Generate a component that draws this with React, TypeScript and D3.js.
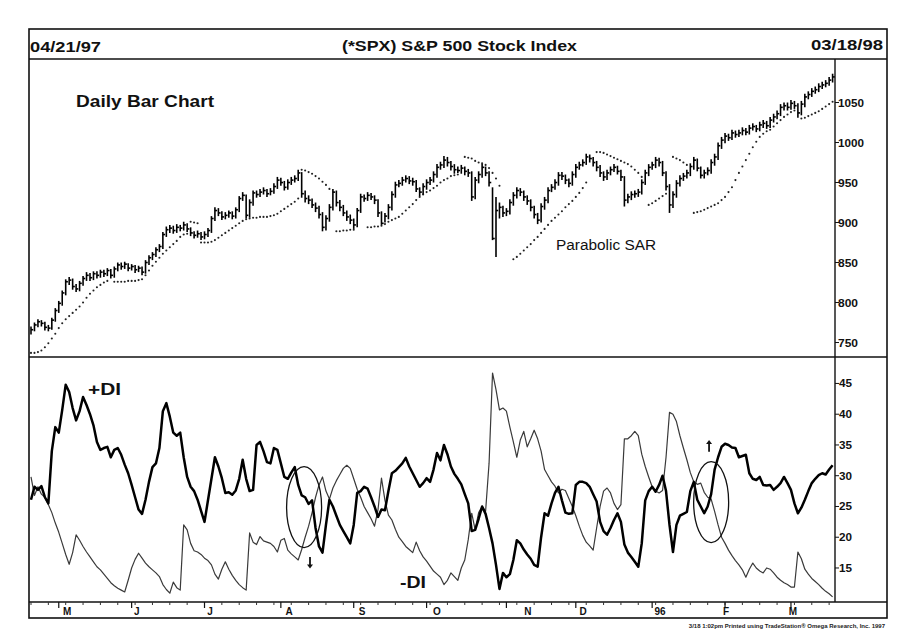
import React from "react";
import * as d3 from "d3";

// ---- Daily S&P 500 bars, 04/21/97 .. 03/18/98 (trading-day index 0..231) ----
const closes = [
766,772,776,774,769,768,778,790,799,812,
826,828,820,817,824,830,834,831,836,834,
838,836,840,834,842,847,845,848,843,845,
841,843,838,850,856,860,866,870,885,891,
893,890,894,893,897,892,887,884,886,882,
885,890,905,915,912,907,909,912,908,916,
930,934,909,925,937,935,938,940,936,939,
945,953,950,944,950,953,955,962,936,930,
928,922,918,910,894,905,919,938,925,919,
912,907,903,897,915,932,930,934,932,928,
912,899,908,919,935,947,949,953,955,952,
951,942,938,945,950,953,960,969,972,978,
975,970,966,965,968,964,962,932,953,960,
969,962,950,880,915,919,912,914,925,934,
940,938,932,927,919,910,903,920,928,940,
944,950,959,958,953,949,960,969,972,975,
982,980,975,969,962,957,962,966,969,964,
957,928,932,935,936,938,950,962,969,972,
978,975,962,945,922,935,949,955,958,962,
970,978,968,959,962,965,975,982,996,1003,
1008,1006,1012,1010,1012,1015,1013,1018,1020,1017,
1022,1024,1021,1028,1032,1036,1044,1046,1044,1049,
1046,1037,1048,1057,1060,1064,1066,1070,1072,1074,
1078,1082];

const highs = [
770,775,779,778,776,772,781,793,802,815,
829,832,830,823,827,833,838,837,839,839,
841,841,843,842,845,850,850,851,849,848,
847,846,845,853,859,863,869,873,888,895,
897,896,898,897,901,899,894,889,890,888,
889,893,908,919,918,914,913,915,914,919,
933,938,935,929,940,940,942,944,942,943,
949,957,956,952,954,957,959,966,963,940,
934,930,925,921,913,909,923,942,940,928,
922,915,910,905,918,936,935,938,937,934,
929,914,912,923,939,951,953,957,959,958,
956,953,944,949,954,957,964,973,976,983,
982,977,973,970,972,970,967,964,957,964,
973,970,964,944,932,925,921,918,929,938,
944,943,940,934,929,921,912,924,932,944,
948,954,963,963,960,955,964,973,976,979,
986,985,982,977,972,964,966,970,973,971,
966,958,936,939,940,942,954,966,973,976,
982,981,977,964,948,939,953,959,962,966,
974,982,980,970,966,969,979,986,1000,1007,
1012,1011,1016,1015,1016,1019,1018,1022,1024,1022,
1026,1028,1027,1032,1036,1040,1048,1050,1050,1053,
1052,1049,1052,1061,1064,1068,1070,1074,1076,1078,
1082,1086];

const lows = [
760,764,769,770,765,764,766,776,787,796,
809,822,816,813,814,821,827,827,828,830,
831,832,833,830,831,839,841,842,839,840,
837,838,834,836,847,853,857,863,867,882,
887,886,887,889,890,888,883,880,881,878,
879,882,887,902,908,903,904,906,904,905,
913,927,905,906,921,931,932,935,932,934,
936,942,946,940,941,947,950,952,931,925,
923,918,913,905,889,890,901,915,920,914,
908,902,898,892,894,912,926,927,928,923,
907,897,900,904,915,931,944,946,950,948,
946,938,933,935,941,947,950,956,966,968,
970,965,961,962,961,959,957,927,929,949,
956,958,945,878,857,905,907,908,910,921,
930,933,927,922,914,905,898,900,916,924,
938,941,946,953,948,944,946,956,966,970,
972,975,970,964,957,952,953,959,963,960,
952,920,924,928,931,932,935,947,958,966,
968,970,958,940,912,918,931,945,952,955,
958,966,964,955,955,959,961,971,978,992,
999,1002,1003,1006,1007,1009,1009,1010,1015,1013,
1014,1018,1017,1018,1025,1029,1033,1040,1040,1041,
1042,1031,1034,1044,1054,1057,1061,1063,1067,1069,
1071,1075];

// Parabolic SAR (null = no dot)
const sar: (number | null)[] = [
737,737,738,740,744,749,755,761,768,774,
779,783,787,791,795,800,806,811,815,819,
822,825,827,null,826,826,826,826,827,827,
827,828,829,834,840,846,851,856,861,865,
869,873,877,882,885,886,901,900,899,875,
875,875,876,878,881,884,887,890,893,896,
899,902,904,905,906,906,907,907,907,908,
909,911,914,917,920,923,926,930,966,965,
963,961,958,955,951,947,942,null,889,889,
890,890,891,891,null,null,null,894,894,895,
895,896,898,901,903,905,907,911,915,919,
923,928,932,935,938,940,943,946,950,953,
955,958,959,960,null,982,981,980,977,975,
974,972,968,962,955,946,null,null,null,854,
857,861,865,869,873,878,882,887,892,897,
902,906,910,914,919,923,927,932,937,943,
950,null,null,988,988,987,985,983,981,979,
977,975,973,970,966,962,957,null,922,924,
927,930,933,936,null,982,980,978,975,972,
null,912,913,914,916,918,920,922,924,928,
932,938,944,953,962,970,978,986,994,1001,
1007,1011,1014,1016,1020,1024,1028,1032,1035,1038,
1040,null,1030,1031,1033,1035,1037,1039,1042,1045,
1048,1051];

const plusDI = [
26.1,28.2,27.7,28.3,26.5,25.5,34,37.9,37,40.7,
44.8,43.6,41,39,40.5,42.8,41.5,40,38.2,35.5,
34.2,34.5,34.7,33,34.2,34.5,33.4,31.8,30.4,28.5,
26.5,24.5,23.8,26.1,29,31.4,32,34.5,40.5,41.8,
39.6,37,36.5,37,33,29.8,28.2,27.5,26.1,24.3,
22.5,26,29.5,33,31.5,29.6,27.2,27.3,26.9,27.6,
29.5,32.6,29.5,27.5,27.7,35,35.5,34,32.2,32,
34.5,34.2,32,29.8,29.5,30.5,31.4,28.5,26.8,26.5,
25.4,26,21.5,18.5,17.5,22,26.1,25,23.5,22,
21,20,19,22,27.2,27.5,28.2,27.9,26.5,25,
23.3,24.5,24.4,27.5,30.4,30.8,31.4,32,32.9,31.5,
30.4,29.3,28.2,28.8,29.6,29,31,33.7,32.5,35,
33.5,31.5,30.3,29.5,28.6,27,25.5,21,21.2,23,
25,23.8,21.5,19,15.5,11.6,14.2,13.5,14,16.3,
19.5,19,18,17.2,16.5,15.5,15.2,20,23.9,23.5,
25.5,27.2,28.2,26,24,23.8,23.9,28.5,29,29,
28.8,28.2,27,25.8,22.5,21,20.4,21.5,22.8,23.9,
22.5,18.8,17.5,16.8,16,15.2,19,26,27.5,28.2,
27.4,28.5,30,27.5,22,17.6,22,23.5,23.8,24.1,
27.5,29,26.1,25,23.9,25,27,31,33,34.7,
35.2,35,34.6,34.5,33,33.2,33.4,30.4,29.5,29.3,
29.8,28.5,28.4,28.5,27.7,28.2,28.8,29.8,28.8,27.7,
25.5,23.9,24.8,26.1,27.5,28.8,29.5,30.1,30.4,30.2,
31,31.7];

const minusDI = [
29.8,26.8,28.2,27,26.5,25.3,24,22.3,20.8,19,
17.2,15.6,17.5,20.4,19.5,18.5,17.6,16.8,16,15.2,
14.7,14,13.3,12.6,12.1,11.7,11.4,11.1,13,15,
16.4,17.4,16.6,15.8,15.2,14.7,14.2,13.6,12.3,11.5,
10.9,12.7,11.8,11.4,22,21.2,19,17.8,17.6,17.2,
16.6,16.2,15.5,14,13.2,14.8,16,14.8,13.8,13,
12.3,11.8,11.4,20.7,19.2,18.8,20.1,19.4,19.2,19,
18.5,17.6,19.5,19.8,17.9,17.3,16.8,16.3,18,20,
21.8,24,26.5,28.5,29.8,27.5,26.2,28,29.2,30.2,
31.2,31.7,31.2,29.5,27.8,26.5,25,24,23,21.8,
24.5,29.6,26,23.6,22.8,21.3,20,19.3,18.5,18,
17.5,19.2,17.8,16.8,16.1,15.3,14.5,14,13.5,12.3,
13,14.2,13.6,13,15,16.3,19.6,23.9,21.2,24,
25,24.2,32,46.7,44,40.7,41,40.5,37.9,35.5,
33,35.8,37.2,34.7,36,37.4,36,34,31,30,
29,28.3,27.2,27.8,27.6,26.3,25,23.5,21.8,20.3,
19.2,18.6,17.9,21.5,25,27.5,28,27.2,25.5,24.5,
25.3,36,36,36.5,37.2,36.5,33.5,31.5,29.8,28.2,
27.5,27.2,27.6,33,40.3,40,38.8,36.5,34.5,32.6,
30.5,29,28.6,28.8,27.3,26.5,26.2,24.2,22,20,
19,17.9,17,16.2,15.5,14.7,13.5,14.8,15.8,15,
14.5,14.2,15,14.8,14.2,13.5,13,12.6,12.3,11.9,
11.9,17.6,16.5,14.8,14,13.3,12.8,12.3,11.7,11.2,
10.8,10.3];

const priceTicks = [750, 800, 850, 900, 950, 1000, 1050];
const diTicks = [15, 20, 25, 30, 35, 40, 45];
const monthLabels = ["M", "J", "J", "A", "S", "O", "N", "D", "96", "F", "M"];
const monthLabelDays = [10.4, 30.5, 51.6, 74.4, 95.4, 117, 143.2, 159.1, 181.3, 200.3, 219.6];
const monthStartDays = [8, 29, 50, 72, 93, 114, 137, 157, 179, 200, 219];
// annotations: ellipses [day, DI value], arrows [day, fromDI, toDI]
const ellipses = [[78.7, 24.9], [196, 25.7]];
const arrows = [[80.4, 16.8, 14.9], [195.4, 33.9, 35.8]];

const FONT = "'Liberation Sans', Arial, Helvetica, sans-serif";

export default function App() {
  const L = 29, R = 887, T = 29, TB = 59, MID = 357, AX = 602, B = 618, YA = 835;
  const x = d3.scaleLinear().domain([0, closes.length - 1]).range([31, 832.6]);
  const yP = d3.scaleLinear().domain([731.9, 1104.4]).range([MID, TB]);
  const yD = d3.scaleLinear().domain([9.47, 49.3]).range([AX, MID]);
  const diLine = d3.line<number>().x((_, i) => x(i)).y((d) => yD(d));
  const weekTicks = d3.range(0, closes.length, 5);

  return (
    <svg width={898} height={641} style={{ position: "absolute", left: 0, top: 0, background: "#fff" }}
      fontFamily={FONT}>
      <rect x={0} y={0} width={898} height={641} fill="#fff" />
      {/* frame */}
      <rect x={L} y={T} width={R - L} height={B - T} fill="none" stroke="#111" strokeWidth={1.6} />
      <line x1={L} x2={R} y1={TB} y2={TB} stroke="#111" strokeWidth={1.6} />
      <line x1={L} x2={R} y1={MID} y2={MID} stroke="#111" strokeWidth={1.6} />
      <line x1={L} x2={R} y1={AX} y2={AX} stroke="#111" strokeWidth={1.6} />
      <line x1={YA} x2={YA} y1={TB} y2={AX} stroke="#111" strokeWidth={1.4} />

      {/* title band */}
      <text x={30} y={52} fontSize={14} fontWeight="bold" textLength={71} lengthAdjust="spacingAndGlyphs" fill="#111">04/21/97</text>
      <text x={342} y={51} fontSize={14} fontWeight="bold" textLength={235} lengthAdjust="spacingAndGlyphs" fill="#111">(*SPX) S&amp;P 500 Stock Index</text>
      <text x={811} y={50} fontSize={14} fontWeight="bold" textLength={72} lengthAdjust="spacingAndGlyphs" fill="#111">03/18/98</text>

      {/* price axis */}
      {priceTicks.map((t) => (
        <g key={"p" + t}>
          <line x1={YA} x2={YA + 4} y1={yP(t)} y2={yP(t)} stroke="#111" strokeWidth={1} />
          <text x={YA + 3} y={yP(t) + 4} fontSize={11} fontWeight="bold" fill="#111"
            textLength={t >= 1000 ? 26 : 20} lengthAdjust="spacingAndGlyphs">{t}</text>
        </g>
      ))}
      {diTicks.map((t) => (
        <g key={"d" + t}>
          <line x1={YA} x2={YA + 4} y1={yD(t)} y2={yD(t)} stroke="#111" strokeWidth={1} />
          <text x={YA + 4} y={yD(t) + 4} fontSize={11} fontWeight="bold" fill="#111"
            textLength={13} lengthAdjust="spacingAndGlyphs">{t}</text>
        </g>
      ))}

      {/* SAR dots */}
      {sar.map((v, i) => v == null ? null : (
        <circle key={"s" + i} cx={x(i)} cy={yP(v)} r={1.05} fill="#222" />
      ))}

      {/* price bars */}
      {closes.map((c, i) => (
        <g key={"b" + i} stroke="#000" strokeWidth={1.6}>
          <line x1={x(i)} x2={x(i)} y1={yP(highs[i])} y2={yP(lows[i])} />
          <line x1={x(i)} x2={x(i) + 2.2} y1={yP(c)} y2={yP(c)} />
        </g>
      ))}

      <text x={76} y={107} fontSize={17} fontWeight="bold" textLength={138} lengthAdjust="spacingAndGlyphs" fill="#111">Daily Bar Chart</text>
      <text x={556} y={250} fontSize={14} textLength={100} lengthAdjust="spacingAndGlyphs" fill="#111">Parabolic SAR</text>

      {/* DI lines */}
      <path d={diLine(minusDI) || ""} fill="none" stroke="#3a3a3a" strokeWidth={1.2} strokeLinejoin="round" />
      <path d={diLine(plusDI) || ""} fill="none" stroke="#000" strokeWidth={2.5} strokeLinejoin="round" />

      <text x={88} y={395} fontSize={17} fontWeight="bold" textLength={33} lengthAdjust="spacingAndGlyphs" fill="#111">+DI</text>
      <text x={400} y={588} fontSize={17} fontWeight="bold" textLength={26} lengthAdjust="spacingAndGlyphs" fill="#111">-DI</text>

      {/* annotations */}
      {ellipses.map(([d, v], k) => (
        <ellipse key={"e" + k} cx={x(d)} cy={yD(v)} rx={17.5} ry={40.5} fill="none" stroke="#111" strokeWidth={1.3} />
      ))}
      {arrows.map(([d, a, b], k) => {
        const x0 = x(d), y0 = yD(a), y1 = yD(b);
        const dir = y1 > y0 ? 1 : -1;
        return (
          <g key={"a" + k}>
            <line x1={x0} x2={x0} y1={y0} y2={y1 - dir * 3} stroke="#111" strokeWidth={1.8} />
            <path d={`M${x0 - 3},${y1 - dir * 4} L${x0 + 3},${y1 - dir * 4} L${x0},${y1} Z`} fill="#111" />
          </g>
        );
      })}

      {/* month axis */}
      {weekTicks.map((d) => (
        <line key={"w" + d} x1={x(d)} x2={x(d)} y1={AX} y2={AX + 3} stroke="#333" strokeWidth={1} />
      ))}
      {monthStartDays.map((d) => (
        <line key={"m" + d} x1={x(d)} x2={x(d)} y1={AX} y2={AX + 6} stroke="#111" strokeWidth={1.2} />
      ))}
      {monthLabels.map((m, k) => (
        <text key={"ml" + k} x={x(monthLabelDays[k])} y={615} fontSize={10} fontWeight="bold"
          textAnchor="middle" fill="#111">{m}</text>
      ))}

      <text x={885} y={628} fontSize={6} fontWeight="bold" textAnchor="end" fill="#222">3/18  1:02pm Printed using TradeStation® Omega Research, Inc. 1997</text>
    </svg>
  );
}
